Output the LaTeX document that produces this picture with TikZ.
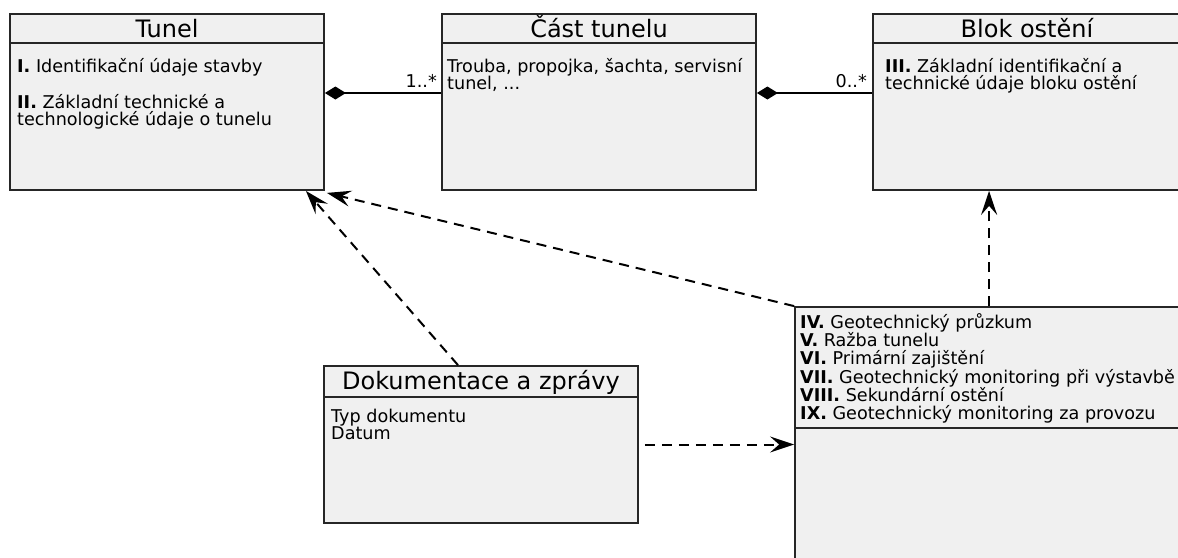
\documentclass[tikz,border=0pt]{standalone}
\usepackage{fontspec}
\setmainfont{DejaVu Sans}
\usetikzlibrary{arrows.meta,calc}
\begin{document}
\begin{tikzpicture}[x=1pt,y=-1pt,
 box/.style={draw=black!85, fill=black!6, line width=1.8pt, inner sep=0pt, rectangle},
 divider/.style={draw=black!85, line width=1.8pt},
 ttl/.style={font=\fontsize{24}{27}\selectfont, inner sep=0pt, anchor=base},
 body/.style={font=\fontsize{17.6}{17.4}\selectfont, inner sep=0pt, anchor=north west, align=left},
 comp/.style={line width=1.8pt, {Diamond[length=21pt,width=13pt]}-},
 dep/.style={line width=2pt, dash pattern=on 10pt off 7pt, -{Stealth[length=24pt,width=16pt,inset=9pt]}},
 lbl/.style={font=\fontsize{17.6}{17.6}\selectfont, inner sep=0pt, anchor=base east}]
\useasboundingbox (0,0) rectangle (1178,557);
\clip (0,0) rectangle (1178,557);
\fill[white] (0,0) rectangle (1178,557);

% boxes
\node[box, minimum width=314pt, minimum height=176pt] (tunel) at (167,102) {};
\node[box, minimum width=314pt, minimum height=176pt] (cast) at (599,102) {};
\node[box, minimum width=308pt, minimum height=176pt] (blok) at (1027,102) {};
\node[box, minimum width=314pt, minimum height=157pt] (doc) at (481,444.5) {};
\node[box, minimum width=395pt, minimum height=268pt] (geo) at (992.5,441) {};

% dividers
\draw[divider] ([yshift=-30pt]tunel.north west) -- ([yshift=-30pt]tunel.north east);
\draw[divider] ([yshift=-30pt]cast.north west) -- ([yshift=-30pt]cast.north east);
\draw[divider] ([yshift=-30pt]blok.north west) -- ([yshift=-30pt]blok.north east);
\draw[divider] ([yshift=-32pt]doc.north west) -- ([yshift=-32pt]doc.north east);
\draw[divider] ([yshift=-122pt]geo.north west) -- ([yshift=-122pt]geo.north east);

% titles
\node[ttl] (tunelT) at (167,37) {Tunel};
\node[ttl] (castT) at (599,37) {Část tunelu};
\node[ttl] (blokT) at (1027,37) {Blok ostění};
\node[ttl] (docT) at (481,389) {Dokumentace a zprávy};

% bodies
\node[body] (tunelB) at (17,55) {\rule{0pt}{17pt}\textbf{I.} Identifikační údaje stavby\\[17.4pt]
\textbf{II.} Základní technické a\\technologické údaje o tunelu};
\node[body] (castB) at (447,55) {\rule{0pt}{17pt}Trouba, propojka, šachta, servisní\\tunel, ...};
\node[body] (blokB) at (885,55) {\rule{0pt}{17pt}\textbf{III.} Základní identifikační a\\technické údaje bloku ostění};
\node[body] (geoB) at (800,311) {\rule{0pt}{17pt}\textbf{IV.} Geotechnický průzkum\\
\textbf{V.} Ražba tunelu\\
\textbf{VI.} Primární zajištění\\
\textbf{VII.} Geotechnický monitoring při výstavbě\\
\textbf{VIII.} Sekundární ostění\\
\textbf{IX.} Geotechnický monitoring za provozu};
\node[body] (docB) at (331,405) {\rule{0pt}{17pt}Typ dokumentu\\Datum};

% compositions
\draw[comp] ([yshift=9pt]tunel.east) -- ([yshift=9pt]cast.west);
\node[lbl] (m1) at (437,87) {1..*};
\draw[comp] ([yshift=9pt]cast.east) -- ([yshift=9pt]blok.west);
\node[lbl] (m2) at (867,87) {0..*};

% dependencies
\draw[dep] ([xshift=-23pt]doc.north) -- ([xshift=-19pt]tunel.south east);
\draw[dep] (geo.north west) -- ([xshift=2pt,yshift=-2pt]tunel.south east);
\draw[dep] ([xshift=195pt]geo.north west) -- ([xshift=117pt]blok.south west);
\draw[dep] ([xshift=6pt]doc.east) -- (doc.east -| geo.west);
\end{tikzpicture}
\end{document}
